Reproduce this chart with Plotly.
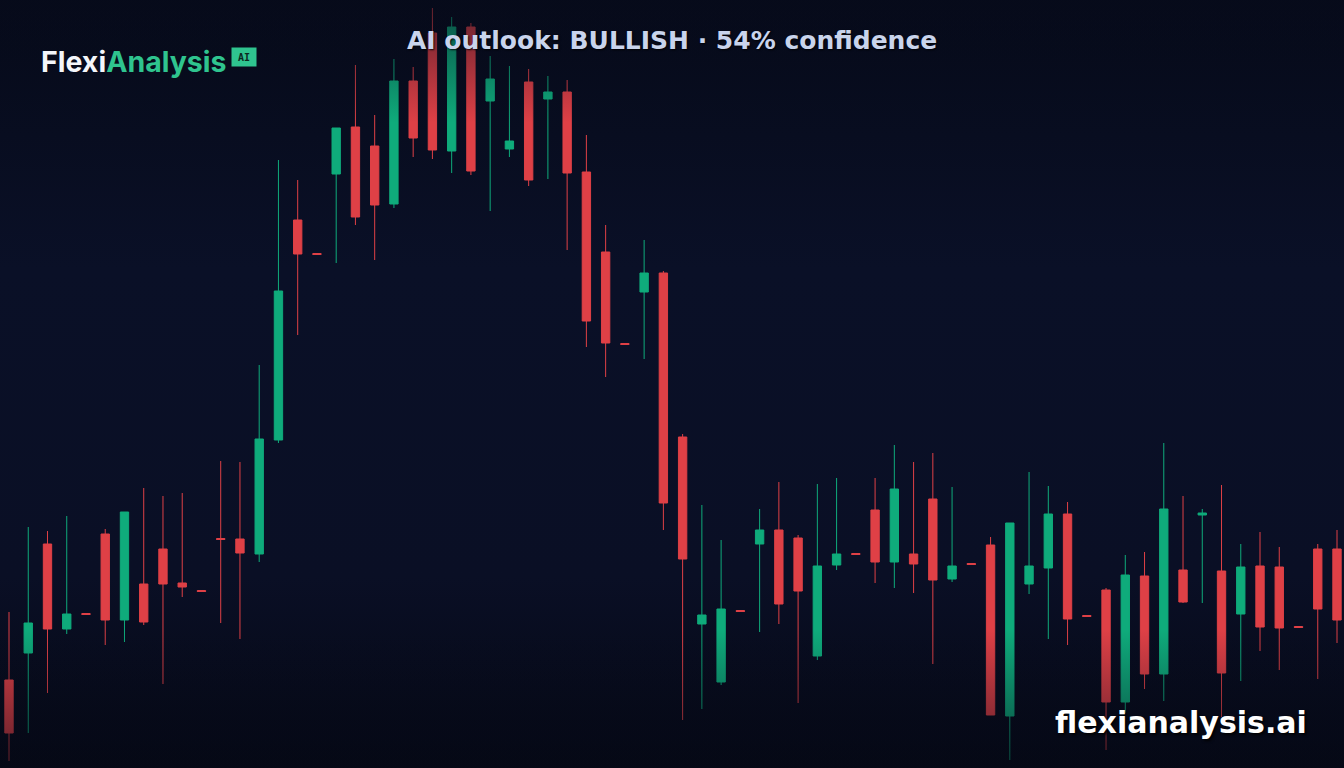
import base64
import plotly.graph_objects as go

# ---- data (price units, arbitrary) ----
candle_index = list(range(70))
open_ = [88, 115, 224, 139, 154.5, 234, 148, 184, 219, 185,
         177.5, 229.5, 229, 214, 328, 548, 514.5, 594, 641, 622,
         564, 687, 735, 617, 741, 667, 619, 686, 669, 676,
         596, 516, 424.5, 476, 495, 331, 144, 86, 157.5, 224,
         238, 230, 112, 203, 214.5, 258, 206, 214, 269, 189,
         204.5, 223, 52, 184, 200, 254, 152.5, 178, 66, 192,
         94, 198, 253, 197, 154, 202, 201, 141.5, 219, 219]
high = [156, 241, 237, 252, 155, 239, 256, 280, 272, 275,
        178, 307, 306, 403, 608, 588, 515, 640, 703, 653,
        709, 701, 760, 751, 745, 712, 702, 699, 692, 688,
        633, 543, 425, 528, 497, 334, 263, 228, 158, 259,
        286, 233, 284, 290, 215, 290, 323, 306, 315, 281,
        205, 231, 245, 296, 282, 266, 153, 180, 213, 216,
        325, 272, 259, 283, 224, 236, 221, 142, 224, 238]
low = [7, 35, 75, 134, 153.5, 123, 126, 143, 84, 171,
       176.5, 145, 129, 206, 325, 433, 513.5, 505, 543, 508,
       560, 611, 609, 595, 593, 557, 611, 582, 589, 518,
       421, 391, 423.5, 409, 238, 48, 59, 83, 156.5, 136,
       144, 65, 108, 198, 213.5, 185, 180, 175, 104, 186,
       203.5, 53, 8, 174, 129, 123, 151.5, 18, 55, 79,
       67, 165, 165, 51, 87, 117, 98, 140.5, 89, 125]
close = [35, 145, 139, 154, 153.5, 148, 256, 146, 184, 181,
         176.5, 228.5, 215, 329, 477, 514, 513.5, 640, 551, 563,
         687, 630, 618, 741, 597, 689, 627, 588, 676, 595,
         447, 425, 423.5, 495, 265, 209, 153, 159, 156.5, 238,
         164, 177, 202, 214, 213.5, 206, 279, 204, 188, 202,
         203.5, 53, 245, 202, 254, 149, 151.5, 66, 193, 94,
         259, 166, 255, 95, 201, 141, 140, 140.5, 159, 148]

title_text = "AI outlook: BULLISH · 54% confidence"
brand_main = "Flexi"
brand_accent = "Analysis"
badge_text = "AI"
watermark = "flexianalysis.ai"

UP = "#0fab7b"
DOWN = "#df4046"
ACCENT = "#2fc48f"

W, H = 1344, 768


def svg_uri(svg):
    return "data:image/svg+xml;base64," + base64.b64encode(svg.encode()).decode()


bg_svg = f"""<svg xmlns='http://www.w3.org/2000/svg' width='{W}' height='{H}' preserveAspectRatio='none'>
<defs><linearGradient id='g' x1='0' y1='0' x2='0' y2='1'>
<stop offset='0' stop-color='#060a19'/>
<stop offset='0.35' stop-color='#0a1027'/>
<stop offset='0.75' stop-color='#0a0f25'/>
<stop offset='1' stop-color='#050815'/>
</linearGradient></defs>
<rect width='{W}' height='{H}' fill='url(#g)'/></svg>"""

fade_svg = f"""<svg xmlns='http://www.w3.org/2000/svg' width='{W}' height='{H}' preserveAspectRatio='none'>
<defs><linearGradient id='f' x1='0' y1='0' x2='0' y2='1'>
<stop offset='0' stop-color='#070b1b' stop-opacity='0.6'/>
<stop offset='0.16' stop-color='#080c1e' stop-opacity='0'/>
<stop offset='0.82' stop-color='#070b1b' stop-opacity='0'/>
<stop offset='1' stop-color='#060916' stop-opacity='0.6'/>
</linearGradient></defs>
<rect width='{W}' height='{H}' fill='url(#f)'/></svg>"""

fig = go.Figure()
fig.add_trace(go.Candlestick(
    x=candle_index, open=open_, high=high, low=low, close=close,
    increasing=dict(line=dict(color=UP, width=1), fillcolor=UP),
    decreasing=dict(line=dict(color=DOWN, width=1), fillcolor=DOWN),
    whiskerwidth=0, hoverinfo="skip", showlegend=False,
))

step = 1328 / 69
x0 = -9 / step
x1 = (W - 9) / step

fig.update_layout(
    width=W, height=H,
    margin=dict(l=0, r=0, t=0, b=0),
    paper_bgcolor="#0a0f24",
    plot_bgcolor="rgba(0,0,0,0)",
    boxgap=0.38,
    xaxis=dict(range=[x0, x1], visible=False, rangeslider=dict(visible=False), fixedrange=True),
    yaxis=dict(range=[0, H], visible=False, fixedrange=True),
    showlegend=False,
    images=[
        dict(source=svg_uri(bg_svg), xref="paper", yref="paper", x=0, y=1,
             sizex=1, sizey=1, sizing="stretch", layer="below", xanchor="left", yanchor="top"),
        dict(source=svg_uri(fade_svg), xref="paper", yref="paper", x=0, y=1,
             sizex=1, sizey=1, sizing="stretch", layer="above", xanchor="left", yanchor="top"),
    ],
)


def px(x):
    return x / W


def py(y):
    return 1 - y / H


# badge
fig.add_shape(type="rect", xref="paper", yref="paper",
              x0=px(231.5), x1=px(256.5), y0=py(66.5), y1=py(47.5),
              fillcolor=ACCENT, line=dict(width=0), layer="above")

fig.add_annotation(
    x=px(39), y=py(62), xref="paper", yref="paper", xanchor="left", yanchor="middle",
    text=f"{brand_main}<span style='color:{ACCENT}'>{brand_accent}</span>",
    showarrow=False,
    font=dict(family="Inter", size=28.5, color="#f4f6fa", weight=700),
)
fig.add_annotation(
    x=px(244), y=py(57.5), xref="paper", yref="paper", xanchor="center", yanchor="middle",
    text=badge_text, showarrow=False,
    font=dict(family="DejaVu Sans Mono", size=10, color="#0b2a1f", weight=700),
)
fig.add_annotation(
    x=0.5, y=py(40), xref="paper", yref="paper", xanchor="center", yanchor="middle",
    text=title_text, showarrow=False,
    font=dict(family="DejaVu Sans", size=25, color="#c9d4ec", weight=700,
              shadow="1px 1px 2px rgba(0,0,0,0.85)"),
)
fig.add_annotation(
    x=px(1309), y=py(722), xref="paper", yref="paper", xanchor="right", yanchor="middle",
    text=watermark, showarrow=False,
    font=dict(family="DejaVu Sans", size=30, color="#ffffff", weight=700,
              shadow="2px 2px 3px rgba(0,0,0,0.9)"),
)

fig.write_html("out.html", config=dict(displayModeBar=False))
